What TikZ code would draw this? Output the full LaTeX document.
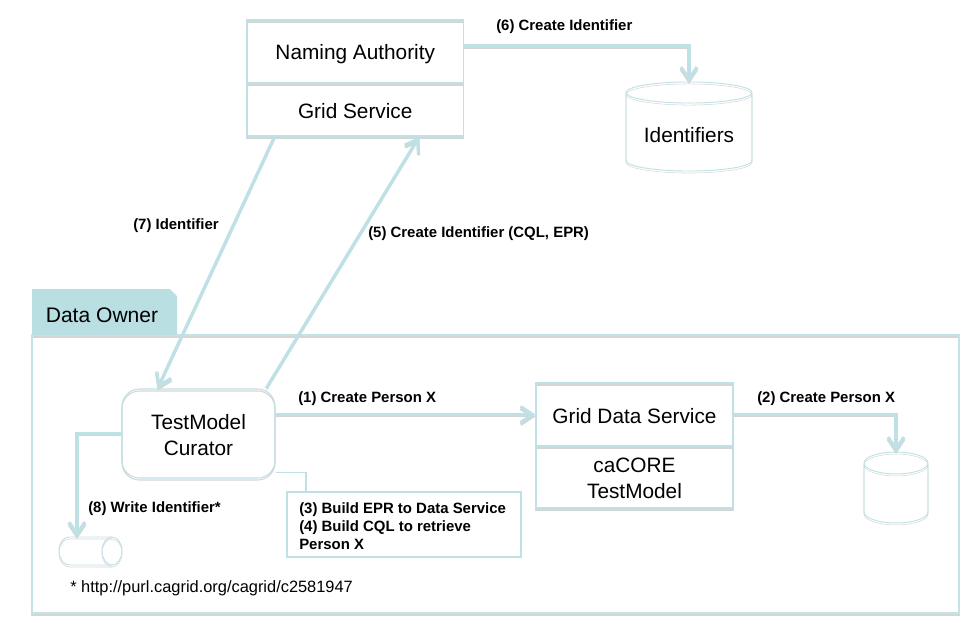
\documentclass[tikz,border=0pt]{standalone}
\usepackage{fontspec}
\setmainfont{Liberation Sans}
\usetikzlibrary{arrows.meta,calc}
\definecolor{teal}{HTML}{BFE0E4}
\definecolor{tabfill}{HTML}{B9DFE3}
\definecolor{framec}{HTML}{C6E3E3}
\definecolor{shade}{HTML}{D4D6D6}
\def\pxu{0.75pt}
\newcommand\lift[1]{\rule{0pt}{#1}}
\tikzset{
  x=0.75pt,y=-0.75pt,
  shad/.style={preaction={draw=shade,transform canvas={yshift=-1.5pt}}},
  box/.style={rectangle,draw=teal,line width=0.8pt,shad,inner sep=0pt,align=center,font=\fontsize{15.6pt}{19.5pt}\selectfont},
  round/.style={box,rounded corners=13pt},
  cylarea/.style={rectangle,inner sep=0pt,outer sep=0pt,align=center,font=\fontsize{15.6pt}{19.5pt}\selectfont},
  cylline/.style={draw=teal,line width=0.7pt,shad},
  conn/.style={draw=teal,line width=2.6pt,shad,-{Straight Barb[length=9pt,width=12pt,line width=2.4pt]}},
  thin link/.style={draw=teal,line width=0.8pt},
  lab/.style={inner sep=0pt,anchor=west,font=\fontsize{11.2pt}{13.5pt}\selectfont\bfseries},
}
\begin{document}
\begin{tikzpicture}
\useasboundingbox (0,0) rectangle (979,625);
% Data Owner frame and tab
\node[rectangle,draw=framec,line width=1.2pt,shad,minimum width=927*\pxu,minimum height=278*\pxu,inner sep=0pt] (frame) at (495.5,474) {};
\path[fill=tabfill] (32,335) -- (32,289) -- (170,289) -- (177,296) -- (177,335) -- cycle;
\node[inner sep=0pt,font=\fontsize{15.8pt}{18pt}\selectfont] (owner) at (102,315) {Data Owner};
% Naming authority
\node[box,minimum width=216.5*\pxu,minimum height=63*\pxu] (na) at (355.25,51.5) {\lift{15.8pt}Naming Authority};
\node[box,minimum width=216.5*\pxu,minimum height=53*\pxu] (gs) at (355.25,109.5) {\lift{14.3pt}Grid Service};
% Identifiers
\node[cylarea,minimum width=126*\pxu,minimum height=89*\pxu] (ids) at (689,126.5) {\lift{24.8pt}Identifiers};
\draw[cylline] (626,92.5) -- (626,160.5) arc[start angle=180,end angle=360,x radius=47.25pt,y radius=7.9pt] -- (752,92.5) arc[start angle=0,end angle=180,x radius=47.25pt,y radius=7.9pt] arc[start angle=180,end angle=360,x radius=47.25pt,y radius=7.9pt];
% Curator
\node[round,minimum width=153*\pxu,minimum height=89*\pxu] (cur) at (198.5,433.5) {\lift{14.3pt}TestModel\\Curator};
% Grid data service
\node[box,minimum width=197*\pxu,minimum height=63*\pxu] (gds) at (634.5,414.5) {\lift{13.5pt}Grid Data Service};
\node[box,minimum width=197*\pxu,minimum height=62*\pxu] (core) at (634.5,477) {\lift{13.5pt}caCORE\\TestModel};
% Small database
\node[cylarea,minimum width=64*\pxu,minimum height=71*\pxu] (db) at (896,487.5) {};
\draw[cylline] (864,463) -- (864,512) arc[start angle=180,end angle=360,x radius=24pt,y radius=8.2pt] -- (928,463) arc[start angle=0,end angle=180,x radius=24pt,y radius=8.2pt] arc[start angle=180,end angle=360,x radius=24pt,y radius=8.2pt];
% Tape
\node[cylarea,minimum width=63*\pxu,minimum height=28*\pxu] (tape) at (90.5,551) {};
\draw[cylline] (69,537) -- (112,537) arc[start angle=90,end angle=-90,x radius=7.5pt,y radius=10.5pt] -- (69,565) arc[start angle=270,end angle=90,x radius=7.5pt,y radius=10.5pt];
\draw[cylline] (112,537) arc[start angle=90,end angle=270,x radius=7.5pt,y radius=10.5pt];
% Note
\node[rectangle,draw=teal,line width=0.8pt,minimum width=234*\pxu,minimum height=65*\pxu,inner sep=0pt] (note) at (404,524.5) {};
\node[lab,align=left] (notetext) at (299,526.5) {(3) Build EPR to Data Service\\(4) Build CQL to retrieve\\Person X};
% Connectors
\draw[conn] ($(na.east)+(0,-5.5)$) -| (ids.north);
\draw[conn] ($(gs.south west)!0.13!(gs.south east)$) -- ($(cur.north west)!0.235!(cur.north east)$);
\draw[conn] ($(cur.north west)!0.94!(cur.north east)$) -- ($(gs.south west)!0.795!(gs.south east)$);
\draw[conn] (cur.east |- gds.west) -- (gds.west);
\draw[conn] (gds.east) -| (db.north);
\draw[conn] (cur.west) -| ($(tape.north)+(-13.5,0)$);
\draw[thin link] ($(cur.south east)+(0,-6)$) -| (note.north -| 306,0);
% Labels
\node[lab] (l6) at (496,27) {(6) Create Identifier};
\node[lab] (l7) at (133,226) {(7) Identifier};
\node[lab] (l5) at (368,234) {(5) Create Identifier (CQL, EPR)};
\node[lab] (l1) at (298,399) {(1) Create Person X};
\node[lab] (l2) at (757,399) {(2) Create Person X};
\node[lab] (l8) at (88,509) {(8) Write Identifier*};
\node[inner sep=0pt,anchor=west,font=\fontsize{12.3pt}{14pt}\selectfont] (foot) at (70,588) {* http://purl.cagrid.org/cagrid/c2581947};
\end{tikzpicture}
\end{document}
